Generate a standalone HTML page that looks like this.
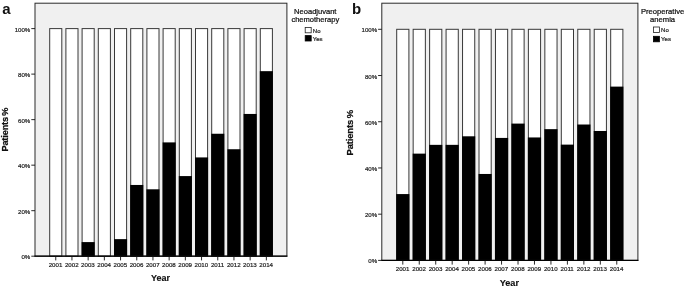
<!DOCTYPE html>
<html><head><meta charset="utf-8"><title>Figure</title>
<style>
html,body{margin:0;padding:0;background:#fff;}
body{width:685px;height:289px;overflow:hidden;}
svg{display:block;filter:blur(0.3px);font-family:"Liberation Sans",Arial,sans-serif;}
</style></head><body>
<svg width="685" height="289" viewBox="0 0 685 289">
<rect width="685" height="289" fill="#fff"/>
<g>
<rect x="35.0" y="3.2" width="251.90" height="253.00" fill="#f0f0f0"/>
<rect x="49.70" y="28.60" width="12.1" height="227.60" fill="#fff" stroke="#383838" stroke-width="1"/>
<rect x="65.90" y="28.60" width="12.1" height="227.60" fill="#fff" stroke="#383838" stroke-width="1"/>
<rect x="82.10" y="28.60" width="12.1" height="227.60" fill="#fff" stroke="#383838" stroke-width="1"/>
<rect x="81.60" y="242.09" width="13.10" height="14.11" fill="#000"/>
<rect x="98.30" y="28.60" width="12.1" height="227.60" fill="#fff" stroke="#383838" stroke-width="1"/>
<rect x="114.50" y="28.60" width="12.1" height="227.60" fill="#fff" stroke="#383838" stroke-width="1"/>
<rect x="114.00" y="239.13" width="13.10" height="17.07" fill="#000"/>
<rect x="130.70" y="28.60" width="12.1" height="227.60" fill="#fff" stroke="#383838" stroke-width="1"/>
<rect x="130.20" y="184.96" width="13.10" height="71.24" fill="#000"/>
<rect x="146.90" y="28.60" width="12.1" height="227.60" fill="#fff" stroke="#383838" stroke-width="1"/>
<rect x="146.40" y="189.29" width="13.10" height="66.91" fill="#000"/>
<rect x="163.10" y="28.60" width="12.1" height="227.60" fill="#fff" stroke="#383838" stroke-width="1"/>
<rect x="162.60" y="142.40" width="13.10" height="113.80" fill="#000"/>
<rect x="179.30" y="28.60" width="12.1" height="227.60" fill="#fff" stroke="#383838" stroke-width="1"/>
<rect x="178.80" y="176.08" width="13.10" height="80.12" fill="#000"/>
<rect x="195.50" y="28.60" width="12.1" height="227.60" fill="#fff" stroke="#383838" stroke-width="1"/>
<rect x="195.00" y="157.42" width="13.10" height="98.78" fill="#000"/>
<rect x="211.70" y="28.60" width="12.1" height="227.60" fill="#fff" stroke="#383838" stroke-width="1"/>
<rect x="211.20" y="133.75" width="13.10" height="122.45" fill="#000"/>
<rect x="227.90" y="28.60" width="12.1" height="227.60" fill="#fff" stroke="#383838" stroke-width="1"/>
<rect x="227.40" y="149.23" width="13.10" height="106.97" fill="#000"/>
<rect x="244.10" y="28.60" width="12.1" height="227.60" fill="#fff" stroke="#383838" stroke-width="1"/>
<rect x="243.60" y="113.95" width="13.10" height="142.25" fill="#000"/>
<rect x="260.30" y="28.60" width="12.1" height="227.60" fill="#fff" stroke="#383838" stroke-width="1"/>
<rect x="259.80" y="71.16" width="13.10" height="185.04" fill="#000"/>
<rect x="35.0" y="3.2" width="251.90" height="253.00" fill="none" stroke="#2a2a2a" stroke-width="1"/>
<line x1="34.5" y1="256.2" x2="287.4" y2="256.2" stroke="#000" stroke-width="1.2"/>
<line x1="31.3" y1="256.20" x2="35.0" y2="256.20" stroke="#111" stroke-width="0.9"/>
<text x="30.30" y="259.20" font-size="6.1" text-anchor="end" fill="#222" stroke="#222" stroke-width="0.2">0%</text>
<line x1="31.3" y1="210.68" x2="35.0" y2="210.68" stroke="#111" stroke-width="0.9"/>
<text x="30.30" y="213.68" font-size="6.1" text-anchor="end" fill="#222" stroke="#222" stroke-width="0.2">20%</text>
<line x1="31.3" y1="165.16" x2="35.0" y2="165.16" stroke="#111" stroke-width="0.9"/>
<text x="30.30" y="168.16" font-size="6.1" text-anchor="end" fill="#222" stroke="#222" stroke-width="0.2">40%</text>
<line x1="31.3" y1="119.64" x2="35.0" y2="119.64" stroke="#111" stroke-width="0.9"/>
<text x="30.30" y="122.64" font-size="6.1" text-anchor="end" fill="#222" stroke="#222" stroke-width="0.2">60%</text>
<line x1="31.3" y1="74.12" x2="35.0" y2="74.12" stroke="#111" stroke-width="0.9"/>
<text x="30.30" y="77.12" font-size="6.1" text-anchor="end" fill="#222" stroke="#222" stroke-width="0.2">80%</text>
<line x1="31.3" y1="28.60" x2="35.0" y2="28.60" stroke="#111" stroke-width="0.9"/>
<text x="30.30" y="31.60" font-size="6.1" text-anchor="end" fill="#222" stroke="#222" stroke-width="0.2">100%</text>
<line x1="55.75" y1="256.2" x2="55.75" y2="260.40" stroke="#111" stroke-width="0.9"/>
<text x="55.55" y="267.20" font-size="6.15" text-anchor="middle" fill="#222" stroke="#222" stroke-width="0.2">2001</text>
<line x1="71.95" y1="256.2" x2="71.95" y2="260.40" stroke="#111" stroke-width="0.9"/>
<text x="71.75" y="267.20" font-size="6.15" text-anchor="middle" fill="#222" stroke="#222" stroke-width="0.2">2002</text>
<line x1="88.15" y1="256.2" x2="88.15" y2="260.40" stroke="#111" stroke-width="0.9"/>
<text x="87.95" y="267.20" font-size="6.15" text-anchor="middle" fill="#222" stroke="#222" stroke-width="0.2">2003</text>
<line x1="104.35" y1="256.2" x2="104.35" y2="260.40" stroke="#111" stroke-width="0.9"/>
<text x="104.15" y="267.20" font-size="6.15" text-anchor="middle" fill="#222" stroke="#222" stroke-width="0.2">2004</text>
<line x1="120.55" y1="256.2" x2="120.55" y2="260.40" stroke="#111" stroke-width="0.9"/>
<text x="120.35" y="267.20" font-size="6.15" text-anchor="middle" fill="#222" stroke="#222" stroke-width="0.2">2005</text>
<line x1="136.75" y1="256.2" x2="136.75" y2="260.40" stroke="#111" stroke-width="0.9"/>
<text x="136.55" y="267.20" font-size="6.15" text-anchor="middle" fill="#222" stroke="#222" stroke-width="0.2">2006</text>
<line x1="152.95" y1="256.2" x2="152.95" y2="260.40" stroke="#111" stroke-width="0.9"/>
<text x="152.75" y="267.20" font-size="6.15" text-anchor="middle" fill="#222" stroke="#222" stroke-width="0.2">2007</text>
<line x1="169.15" y1="256.2" x2="169.15" y2="260.40" stroke="#111" stroke-width="0.9"/>
<text x="168.95" y="267.20" font-size="6.15" text-anchor="middle" fill="#222" stroke="#222" stroke-width="0.2">2008</text>
<line x1="185.35" y1="256.2" x2="185.35" y2="260.40" stroke="#111" stroke-width="0.9"/>
<text x="185.15" y="267.20" font-size="6.15" text-anchor="middle" fill="#222" stroke="#222" stroke-width="0.2">2009</text>
<line x1="201.55" y1="256.2" x2="201.55" y2="260.40" stroke="#111" stroke-width="0.9"/>
<text x="201.35" y="267.20" font-size="6.15" text-anchor="middle" fill="#222" stroke="#222" stroke-width="0.2">2010</text>
<line x1="217.75" y1="256.2" x2="217.75" y2="260.40" stroke="#111" stroke-width="0.9"/>
<text x="217.55" y="267.20" font-size="6.15" text-anchor="middle" fill="#222" stroke="#222" stroke-width="0.2">2011</text>
<line x1="233.95" y1="256.2" x2="233.95" y2="260.40" stroke="#111" stroke-width="0.9"/>
<text x="233.75" y="267.20" font-size="6.15" text-anchor="middle" fill="#222" stroke="#222" stroke-width="0.2">2012</text>
<line x1="250.15" y1="256.2" x2="250.15" y2="260.40" stroke="#111" stroke-width="0.9"/>
<text x="249.95" y="267.20" font-size="6.15" text-anchor="middle" fill="#222" stroke="#222" stroke-width="0.2">2013</text>
<line x1="266.35" y1="256.2" x2="266.35" y2="260.40" stroke="#111" stroke-width="0.9"/>
<text x="266.15" y="267.20" font-size="6.15" text-anchor="middle" fill="#222" stroke="#222" stroke-width="0.2">2014</text>
<text x="160.45" y="281.10" font-size="9.0" font-weight="bold" text-anchor="middle" fill="#111" stroke="#111" stroke-width="0.15">Year</text>
<text transform="translate(7.5,129.70) rotate(-90)" font-size="9.2" font-weight="bold" text-anchor="middle" letter-spacing="-0.15" word-spacing="-1.2" fill="#111" stroke="#111" stroke-width="0.25">Patients %</text>
<text x="2.2" y="14" font-size="15" font-weight="bold" fill="#111">a</text>
<text x="315.3" y="14.10" font-size="7.55" text-anchor="middle" fill="#111" stroke="#111" stroke-width="0.22">Neoadjuvant</text>
<text x="315.3" y="21.50" font-size="7.55" text-anchor="middle" fill="#111" stroke="#111" stroke-width="0.22">chemotherapy</text>
<rect x="305.2" y="27.4" width="6" height="5.4" fill="#fff" stroke="#222" stroke-width="0.8"/>
<rect x="305.2" y="35.6" width="6" height="5.4" fill="#000" stroke="#000" stroke-width="0.8"/>
<text x="312.8" y="32.5" font-size="6" fill="#222" stroke="#222" stroke-width="0.2">No</text>
<text x="312.8" y="40.7" font-size="6" fill="#222" stroke="#222" stroke-width="0.2">Yes</text>
</g>
<g>
<rect x="381.8" y="3.2" width="256.10" height="257.20" fill="#f0f0f0"/>
<rect x="396.70" y="29.30" width="12.2" height="231.10" fill="#fff" stroke="#383838" stroke-width="1"/>
<rect x="396.20" y="194.07" width="13.20" height="66.33" fill="#000"/>
<rect x="413.16" y="29.30" width="12.2" height="231.10" fill="#fff" stroke="#383838" stroke-width="1"/>
<rect x="412.66" y="153.63" width="13.20" height="106.77" fill="#000"/>
<rect x="429.62" y="29.30" width="12.2" height="231.10" fill="#fff" stroke="#383838" stroke-width="1"/>
<rect x="429.12" y="144.85" width="13.20" height="115.55" fill="#000"/>
<rect x="446.08" y="29.30" width="12.2" height="231.10" fill="#fff" stroke="#383838" stroke-width="1"/>
<rect x="445.58" y="144.85" width="13.20" height="115.55" fill="#000"/>
<rect x="462.54" y="29.30" width="12.2" height="231.10" fill="#fff" stroke="#383838" stroke-width="1"/>
<rect x="462.04" y="136.30" width="13.20" height="124.10" fill="#000"/>
<rect x="479.00" y="29.30" width="12.2" height="231.10" fill="#fff" stroke="#383838" stroke-width="1"/>
<rect x="478.50" y="173.97" width="13.20" height="86.43" fill="#000"/>
<rect x="495.46" y="29.30" width="12.2" height="231.10" fill="#fff" stroke="#383838" stroke-width="1"/>
<rect x="494.96" y="137.92" width="13.20" height="122.48" fill="#000"/>
<rect x="511.92" y="29.30" width="12.2" height="231.10" fill="#fff" stroke="#383838" stroke-width="1"/>
<rect x="511.42" y="123.59" width="13.20" height="136.81" fill="#000"/>
<rect x="528.38" y="29.30" width="12.2" height="231.10" fill="#fff" stroke="#383838" stroke-width="1"/>
<rect x="527.88" y="137.45" width="13.20" height="122.95" fill="#000"/>
<rect x="544.84" y="29.30" width="12.2" height="231.10" fill="#fff" stroke="#383838" stroke-width="1"/>
<rect x="544.34" y="129.14" width="13.20" height="131.26" fill="#000"/>
<rect x="561.30" y="29.30" width="12.2" height="231.10" fill="#fff" stroke="#383838" stroke-width="1"/>
<rect x="560.80" y="144.62" width="13.20" height="115.78" fill="#000"/>
<rect x="577.76" y="29.30" width="12.2" height="231.10" fill="#fff" stroke="#383838" stroke-width="1"/>
<rect x="577.26" y="124.51" width="13.20" height="135.89" fill="#000"/>
<rect x="594.22" y="29.30" width="12.2" height="231.10" fill="#fff" stroke="#383838" stroke-width="1"/>
<rect x="593.72" y="130.98" width="13.20" height="129.42" fill="#000"/>
<rect x="610.68" y="29.30" width="12.2" height="231.10" fill="#fff" stroke="#383838" stroke-width="1"/>
<rect x="610.18" y="86.61" width="13.20" height="173.79" fill="#000"/>
<rect x="381.8" y="3.2" width="256.10" height="257.20" fill="none" stroke="#2a2a2a" stroke-width="1"/>
<line x1="381.3" y1="260.4" x2="638.4" y2="260.4" stroke="#000" stroke-width="1.2"/>
<line x1="378.1" y1="260.40" x2="381.8" y2="260.40" stroke="#111" stroke-width="0.9"/>
<text x="377.10" y="263.40" font-size="6.1" text-anchor="end" fill="#222" stroke="#222" stroke-width="0.2">0%</text>
<line x1="378.1" y1="214.18" x2="381.8" y2="214.18" stroke="#111" stroke-width="0.9"/>
<text x="377.10" y="217.18" font-size="6.1" text-anchor="end" fill="#222" stroke="#222" stroke-width="0.2">20%</text>
<line x1="378.1" y1="167.96" x2="381.8" y2="167.96" stroke="#111" stroke-width="0.9"/>
<text x="377.10" y="170.96" font-size="6.1" text-anchor="end" fill="#222" stroke="#222" stroke-width="0.2">40%</text>
<line x1="378.1" y1="121.74" x2="381.8" y2="121.74" stroke="#111" stroke-width="0.9"/>
<text x="377.10" y="124.74" font-size="6.1" text-anchor="end" fill="#222" stroke="#222" stroke-width="0.2">60%</text>
<line x1="378.1" y1="75.52" x2="381.8" y2="75.52" stroke="#111" stroke-width="0.9"/>
<text x="377.10" y="78.52" font-size="6.1" text-anchor="end" fill="#222" stroke="#222" stroke-width="0.2">80%</text>
<line x1="378.1" y1="29.30" x2="381.8" y2="29.30" stroke="#111" stroke-width="0.9"/>
<text x="377.10" y="32.30" font-size="6.1" text-anchor="end" fill="#222" stroke="#222" stroke-width="0.2">100%</text>
<line x1="402.80" y1="260.4" x2="402.80" y2="264.60" stroke="#111" stroke-width="0.9"/>
<text x="402.60" y="271.40" font-size="6.15" text-anchor="middle" fill="#222" stroke="#222" stroke-width="0.2">2001</text>
<line x1="419.26" y1="260.4" x2="419.26" y2="264.60" stroke="#111" stroke-width="0.9"/>
<text x="419.06" y="271.40" font-size="6.15" text-anchor="middle" fill="#222" stroke="#222" stroke-width="0.2">2002</text>
<line x1="435.72" y1="260.4" x2="435.72" y2="264.60" stroke="#111" stroke-width="0.9"/>
<text x="435.52" y="271.40" font-size="6.15" text-anchor="middle" fill="#222" stroke="#222" stroke-width="0.2">2003</text>
<line x1="452.18" y1="260.4" x2="452.18" y2="264.60" stroke="#111" stroke-width="0.9"/>
<text x="451.98" y="271.40" font-size="6.15" text-anchor="middle" fill="#222" stroke="#222" stroke-width="0.2">2004</text>
<line x1="468.64" y1="260.4" x2="468.64" y2="264.60" stroke="#111" stroke-width="0.9"/>
<text x="468.44" y="271.40" font-size="6.15" text-anchor="middle" fill="#222" stroke="#222" stroke-width="0.2">2005</text>
<line x1="485.10" y1="260.4" x2="485.10" y2="264.60" stroke="#111" stroke-width="0.9"/>
<text x="484.90" y="271.40" font-size="6.15" text-anchor="middle" fill="#222" stroke="#222" stroke-width="0.2">2006</text>
<line x1="501.56" y1="260.4" x2="501.56" y2="264.60" stroke="#111" stroke-width="0.9"/>
<text x="501.36" y="271.40" font-size="6.15" text-anchor="middle" fill="#222" stroke="#222" stroke-width="0.2">2007</text>
<line x1="518.02" y1="260.4" x2="518.02" y2="264.60" stroke="#111" stroke-width="0.9"/>
<text x="517.82" y="271.40" font-size="6.15" text-anchor="middle" fill="#222" stroke="#222" stroke-width="0.2">2008</text>
<line x1="534.48" y1="260.4" x2="534.48" y2="264.60" stroke="#111" stroke-width="0.9"/>
<text x="534.28" y="271.40" font-size="6.15" text-anchor="middle" fill="#222" stroke="#222" stroke-width="0.2">2009</text>
<line x1="550.94" y1="260.4" x2="550.94" y2="264.60" stroke="#111" stroke-width="0.9"/>
<text x="550.74" y="271.40" font-size="6.15" text-anchor="middle" fill="#222" stroke="#222" stroke-width="0.2">2010</text>
<line x1="567.40" y1="260.4" x2="567.40" y2="264.60" stroke="#111" stroke-width="0.9"/>
<text x="567.20" y="271.40" font-size="6.15" text-anchor="middle" fill="#222" stroke="#222" stroke-width="0.2">2011</text>
<line x1="583.86" y1="260.4" x2="583.86" y2="264.60" stroke="#111" stroke-width="0.9"/>
<text x="583.66" y="271.40" font-size="6.15" text-anchor="middle" fill="#222" stroke="#222" stroke-width="0.2">2012</text>
<line x1="600.32" y1="260.4" x2="600.32" y2="264.60" stroke="#111" stroke-width="0.9"/>
<text x="600.12" y="271.40" font-size="6.15" text-anchor="middle" fill="#222" stroke="#222" stroke-width="0.2">2013</text>
<line x1="616.78" y1="260.4" x2="616.78" y2="264.60" stroke="#111" stroke-width="0.9"/>
<text x="616.58" y="271.40" font-size="6.15" text-anchor="middle" fill="#222" stroke="#222" stroke-width="0.2">2014</text>
<text x="509.35" y="286.00" font-size="9.15" font-weight="bold" text-anchor="middle" fill="#111" stroke="#111" stroke-width="0.15">Year</text>
<text transform="translate(353.4,132.70) rotate(-90)" font-size="9.45" font-weight="bold" text-anchor="middle" letter-spacing="-0.15" word-spacing="-0.6" fill="#111" stroke="#111" stroke-width="0.25">Patients %</text>
<text x="352" y="14" font-size="15" font-weight="bold" fill="#111">b</text>
<text x="662.6" y="14.30" font-size="7.65" text-anchor="middle" fill="#111" stroke="#111" stroke-width="0.22">Preoperative</text>
<text x="662.6" y="21.80" font-size="7.65" text-anchor="middle" fill="#111" stroke="#111" stroke-width="0.22">anemia</text>
<rect x="653.4" y="27.0" width="6" height="5.5" fill="#fff" stroke="#222" stroke-width="0.8"/>
<rect x="653.4" y="36.3" width="6" height="5.5" fill="#000" stroke="#000" stroke-width="0.8"/>
<text x="661.1" y="32.4" font-size="6" fill="#222" stroke="#222" stroke-width="0.2">No</text>
<text x="661.1" y="41.2" font-size="6" fill="#222" stroke="#222" stroke-width="0.2">Yes</text>
</g>
</svg>
</body></html>
